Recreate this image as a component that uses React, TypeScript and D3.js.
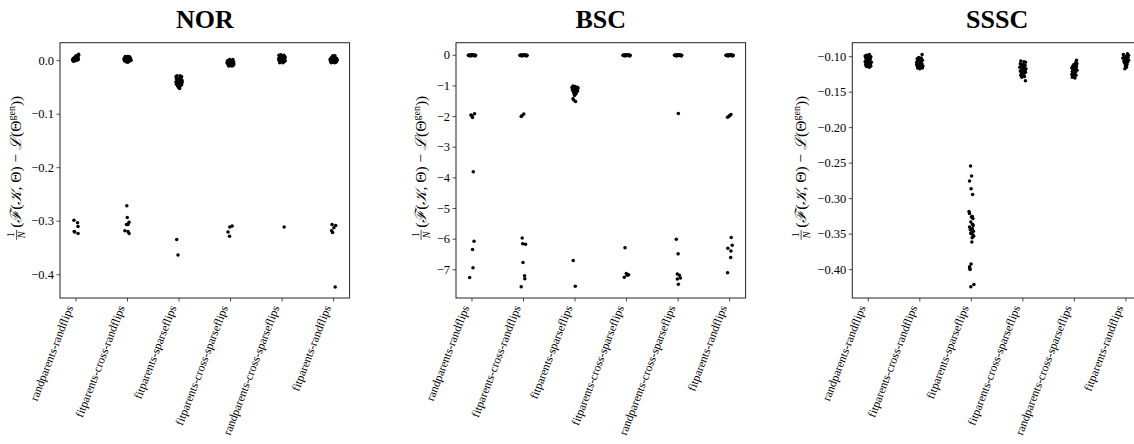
import React from 'react';
import * as d3 from 'd3';

const categories = [
  'randparents-randflips',
  'fitparents-cross-randflips',
  'fitparents-sparseflips',
  'fitparents-cross-sparseflips',
  'randparents-cross-sparseflips',
  'fitparents-randflips',
];

const titles = ['NOR', 'BSC', 'SSSC'];

// each point: [jitter in category units, value]
type Pt = [number, number];

const norPoints: Pt[][] = [
  [[-0.06,0.001],[-0.05,0.004],[-0.04,0.000],[-0.03,0.006],[-0.02,0.002],[-0.01,0.005],[0.0,0.003],[0.01,0.007],[0.02,0.004],[0.03,0.008],[0.04,0.006],[0.05,0.010],[0.05,0.012],[-0.05,-0.001],[-0.02,0.000],[0.02,0.001],[0.035,0.003],[-0.065,0.002],[0.0,0.009],[0.045,0.002],
   [-0.04,-0.298],[0.03,-0.303],[0.04,-0.310],[-0.035,-0.319],[0.04,-0.323],[-0.025,-0.320]],
  [[-0.07,0.003],[-0.06,0.0],[-0.05,0.006],[-0.04,0.002],[-0.03,-0.002],[-0.02,0.007],[-0.01,0.004],[0.0,0.008],[0.0,-0.003],[0.01,0.001],[0.02,0.005],[0.03,0.008],[0.04,0.002],[0.05,0.006],[0.06,0.003],[0.07,0.001],[-0.015,0.0],[0.025,-0.002],[-0.045,0.008],[0.045,0.0],
   [-0.013,-0.271],[-0.005,-0.293],[0.03,-0.302],[-0.02,-0.306],[0.01,-0.306],[-0.05,-0.318],[0.01,-0.319],[0.03,-0.323]],
  [[-0.06,-0.030],[-0.04,-0.028],[0.02,-0.028],[0.05,-0.030],[-0.05,-0.034],[0.0,-0.033],[0.04,-0.035],[-0.03,-0.037],[0.03,-0.038],[-0.06,-0.040],[0.01,-0.040],[0.06,-0.041],[-0.02,-0.042],[0.04,-0.043],[-0.05,-0.044],[0.0,-0.045],[0.05,-0.045],[-0.03,-0.047],[0.02,-0.048],[-0.01,-0.050],[0.01,-0.052],[-0.04,-0.036],[0.06,-0.037],
   [-0.045,-0.334],[-0.02,-0.363]],
  [[-0.07,-0.004],[-0.06,0.0],[-0.05,-0.007],[-0.04,-0.002],[-0.03,-0.009],[-0.02,0.002],[-0.01,-0.005],[0.0,-0.001],[0.0,-0.008],[0.01,-0.003],[0.02,-0.006],[0.03,0.001],[0.04,-0.004],[0.05,-0.009],[0.06,-0.002],[0.065,-0.006],[-0.035,-0.010],[0.025,-0.010],[-0.055,-0.003],[0.045,0.002],
   [0.03,-0.309],[-0.015,-0.311],[-0.05,-0.320],[-0.02,-0.328]],
  [[-0.06,0.010],[-0.05,0.006],[-0.06,0.001],[-0.04,0.008],[-0.03,0.003],[-0.02,0.009],[-0.01,-0.001],[0.0,0.005],[0.01,0.008],[0.02,0.002],[0.03,0.006],[0.04,-0.002],[0.05,0.004],[0.06,0.007],[0.06,0.000],[-0.045,-0.004],[0.015,-0.004],[-0.025,0.011],[0.035,0.010],[-0.065,0.004],
   [0.04,-0.311]],
  [[-0.07,0.002],[-0.06,-0.002],[-0.05,0.005],[-0.04,0.001],[-0.03,0.007],[-0.02,-0.003],[-0.01,0.004],[0.0,0.008],[0.0,0.000],[0.01,0.003],[0.02,-0.004],[0.03,0.006],[0.04,0.002],[0.05,-0.001],[0.06,0.004],[0.07,0.001],[-0.015,0.009],[0.025,0.009],[-0.045,-0.004],[0.045,-0.003],
   [-0.03,-0.306],[0.04,-0.308],[0.005,-0.312],[-0.04,-0.318],[-0.02,-0.321],[0.03,-0.423]],
];

const bscTop: Pt[] = [[-0.07,0],[-0.06,-0.01],[-0.05,0.01],[-0.04,0],[-0.03,-0.02],[-0.02,0.01],[-0.01,0],[0,-0.01],[0.01,0.02],[0.02,0],[0.03,-0.01],[0.04,0.01],[0.05,0],[0.06,-0.02],[0.07,0]];

const bscPoints: Pt[][] = [
  [...bscTop, [-0.02,-1.95],[0.01,-2.03],[0.05,-1.91],[0.00,-1.98],[0.025,-3.80],[0.04,-6.07],[0.01,-6.34],[0.02,-6.93],[-0.045,-7.25]],
  [...bscTop, [-0.045,-2.0],[0.005,-1.92],[-0.03,-1.97],[-0.025,-5.96],[-0.015,-6.15],[0.04,-6.17],[-0.01,-6.76],[0.02,-7.19],[0.025,-7.29],[-0.045,-7.55]],
  [[-0.06,-1.05],[-0.04,-1.00],[-0.02,-1.08],[0.0,-1.02],[0.02,-1.10],[0.04,-1.04],[0.06,-1.07],[-0.05,-1.13],[-0.03,-1.18],[-0.01,-1.15],[0.01,-1.20],[0.03,-1.14],[0.05,-1.17],[-0.02,-1.24],[0.0,-1.28],[0.02,-1.25],[-0.01,-1.31],[0.015,-1.22],[-0.04,-1.42],[-0.025,-1.46],[0.01,-1.51],[-0.035,-1.10],[0.035,-1.12],
   [-0.035,-6.70],[0.005,-7.54]],
  [...bscTop, [-0.03,-6.28],[-0.005,-7.12],[0.04,-7.16],[-0.045,-7.24],[0.015,-7.18]],
  [...bscTop, [0.005,-1.90],[-0.035,-6.00],[0.0,-6.48],[-0.015,-7.14],[0.025,-7.18],[0.045,-7.27],[-0.015,-7.30],[0.005,-7.47]],
  [...bscTop, [-0.04,-2.02],[0.025,-1.93],[-0.015,-1.99],[0.0,-1.97],[0.03,-5.95],[0.05,-6.20],[-0.035,-6.30],[0.025,-6.39],[0.02,-6.60],[-0.04,-7.10]],
];

const ssscPoints: Pt[][] = [
  [[-0.06,-0.099],[-0.03,-0.098],[0.02,-0.097],[0.05,-0.100],[-0.05,-0.102],[0.0,-0.101],[0.04,-0.103],[-0.04,-0.105],[0.03,-0.106],[-0.06,-0.107],[0.01,-0.104],[0.06,-0.108],[-0.02,-0.109],[0.04,-0.110],[-0.05,-0.111],[0.0,-0.112],[0.05,-0.113],[-0.03,-0.114],[0.02,-0.115],[-0.01,-0.107],[0.03,-0.111],[-0.04,-0.113]],
  [[0.045,-0.097],[-0.02,-0.101],[0.03,-0.102],[-0.05,-0.103],[0.0,-0.104],[0.05,-0.105],[-0.04,-0.106],[0.02,-0.107],[-0.06,-0.108],[0.01,-0.109],[0.04,-0.110],[-0.03,-0.111],[0.0,-0.112],[-0.05,-0.113],[0.03,-0.114],[-0.02,-0.115],[0.05,-0.116],[0.0,-0.117],[-0.04,-0.116],[0.06,-0.113],[-0.06,-0.111]],
  [[-0.015,-0.254],[0.005,-0.268],[-0.035,-0.275],[-0.005,-0.286],[0.025,-0.294],[-0.045,-0.318],[-0.035,-0.321],[0.02,-0.325],[0.03,-0.328],[0.0,-0.326],[-0.01,-0.333],[0.025,-0.336],[-0.035,-0.340],[0.035,-0.338],[-0.02,-0.344],[0.04,-0.346],[0.0,-0.348],[0.03,-0.351],[0.045,-0.353],[0.015,-0.355],[-0.01,-0.349],[0.01,-0.361],[0.02,-0.342],[-0.005,-0.392],[-0.035,-0.396],[-0.025,-0.400],[-0.03,-0.398],[0.05,-0.421],[-0.01,-0.424]],
  [[-0.04,-0.106],[0.02,-0.107],[0.05,-0.108],[-0.05,-0.110],[0.0,-0.111],[0.04,-0.112],[-0.03,-0.113],[0.03,-0.114],[-0.06,-0.115],[0.01,-0.116],[0.06,-0.117],[-0.02,-0.118],[0.04,-0.119],[-0.05,-0.120],[0.0,-0.121],[0.05,-0.122],[-0.03,-0.123],[0.02,-0.124],[-0.04,-0.126],[0.01,-0.127],[-0.02,-0.129],[0.03,-0.128],[0.05,-0.134]],
  [[0.04,-0.105],[0.03,-0.108],[0.05,-0.110],[-0.01,-0.111],[0.02,-0.112],[-0.03,-0.113],[0.04,-0.114],[0.0,-0.115],[-0.05,-0.116],[0.03,-0.117],[-0.02,-0.118],[0.05,-0.119],[0.01,-0.120],[-0.04,-0.121],[0.02,-0.122],[-0.03,-0.123],[0.0,-0.124],[-0.05,-0.125],[0.03,-0.126],[-0.02,-0.127],[-0.04,-0.129],[0.01,-0.130]],
  [[-0.05,-0.097],[0.03,-0.096],[0.05,-0.098],[-0.03,-0.099],[0.0,-0.100],[0.04,-0.101],[-0.06,-0.102],[0.02,-0.103],[-0.02,-0.104],[0.05,-0.105],[-0.04,-0.106],[0.01,-0.107],[0.03,-0.108],[-0.03,-0.109],[0.0,-0.110],[0.02,-0.111],[-0.01,-0.113],[0.01,-0.115],[-0.02,-0.117],[0.0,-0.112]],
];

const norTicks = [0, -0.1, -0.2, -0.3, -0.4];
const bscTicks = [0, -1, -2, -3, -4, -5, -6, -7];
const ssscTicks = [-0.10, -0.15, -0.20, -0.25, -0.30, -0.35, -0.40];

const norDomain = [-0.4435, 0.0336];
const bscDomain = [-7.92, 0.41];
const ssscDomain = [-0.44, -0.0803];

const W = 1134;
const H = 444;
const TOP = 42.7;
const BOTTOM = 298;
const AXW = 289.6;
const FONT = "'Liberation Serif', 'DejaVu Serif', serif";

const panels = [
  { title: titles[0], points: norPoints, ticks: norTicks, domain: norDomain, fmt: d3.format('.1f'), left: 60, labelX: 16 },
  { title: titles[1], points: bscPoints, ticks: bscTicks, domain: bscDomain, fmt: d3.format('d'), left: 456, labelX: 420.5 },
  { title: titles[2], points: ssscPoints, ticks: ssscTicks, domain: ssscDomain, fmt: d3.format('.2f'), left: 852.3, labelX: 800.5 },
];

function YLabel({ cx, cy }: { cx: number; cy: number }) {
  return (
    <g transform={`translate(${cx},${cy}) rotate(-90)`} fontFamily={FONT} fill="#000">
      <text x={-64.5} y={-1.8} fontSize={10} textAnchor="middle">1</text>
      <line x1={-69.5} x2={-59.5} y1={0.6} y2={0.6} stroke="#000" strokeWidth={0.7} />
      <text x={-64.5} y={9.4} fontSize={10} textAnchor="middle" fontStyle="italic">N</text>
      <text x={-57.5} y={5.2} fontSize={15.5} textAnchor="start">
        <tspan>(</tspan>
        <tspan fontStyle="italic">ℱ</tspan>
        <tspan>(</tspan>
        <tspan fontStyle="italic">𝒦</tspan>
        <tspan>, Θ) − </tspan>
        <tspan fontStyle="italic">ℒ</tspan>
        <tspan>(Θ</tspan>
        <tspan fontSize={10} dy={-6}>gen</tspan>
        <tspan dy={6}>))</tspan>
      </text>
    </g>
  );
}

function Panel({ p }: { p: typeof panels[number] }) {
  const x = d3.scaleLinear().domain([-0.31, categories.length - 1 + 0.31]).range([p.left, p.left + AXW]);
  const y = d3.scaleLinear().domain(p.domain).range([BOTTOM, TOP]);
  const cy = (TOP + BOTTOM) / 2;
  return (
    <g>
      <text x={p.left + AXW / 2} y={28} textAnchor="middle" fontFamily={FONT} fontWeight="bold" fontSize={26}>
        {p.title}
      </text>
      {p.points.map((pts, ci) =>
        pts.map((d, i) => (
          <circle key={`${ci}-${i}`} cx={x(ci + d[0])} cy={y(d[1])} r={1.75} fill="#000" />
        ))
      )}
      <rect x={p.left} y={TOP} width={AXW} height={BOTTOM - TOP} fill="none" stroke="#222" strokeWidth={1} />
      {p.ticks.map((t) => (
        <g key={t}>
          <line x1={p.left - 3.5} x2={p.left} y1={y(t)} y2={y(t)} stroke="#222" strokeWidth={0.8} />
          <text x={p.left - 6} y={y(t)} dy="0.32em" textAnchor="end" fontFamily={FONT} fontSize={12.5}>
            {p.fmt(t)}
          </text>
        </g>
      ))}
      {categories.map((c, i) => {
        const tx = x(i);
        const ax = tx - 2.5;
        const ay = 307.5;
        return (
          <g key={c}>
            <line x1={tx} x2={tx} y1={BOTTOM} y2={BOTTOM + 3.5} stroke="#222" strokeWidth={0.8} />
            <text x={ax} y={ay} transform={`rotate(-69 ${ax} ${ay})`} textAnchor="end" fontFamily={FONT} fontSize={11.8}>
              {c}
            </text>
          </g>
        );
      })}
      <YLabel cx={p.labelX} cy={cy} />
    </g>
  );
}

export default function App() {
  return (
    <svg width={W} height={H} style={{ position: 'absolute', left: 0, top: 0, background: '#fff' }}>
      <rect x={0} y={0} width={W} height={H} fill="#fff" />
      {panels.map((p) => (
        <Panel key={p.title} p={p} />
      ))}
    </svg>
  );
}
